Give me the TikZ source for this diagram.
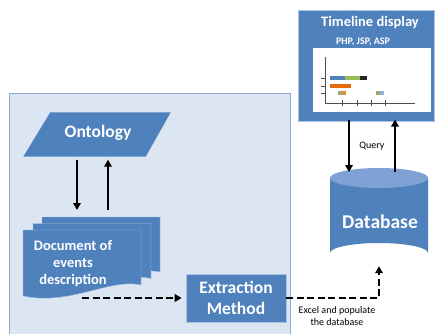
\documentclass[tikz,border=0pt]{standalone}
\usepackage{fontspec}
\setmainfont{Carlito}
\usetikzlibrary{arrows.meta,calc}
\definecolor{mblue}{HTML}{4F81BD}
\definecolor{panelfill}{HTML}{DCE6F2}
\definecolor{panelline}{HTML}{8FAAD0}
\definecolor{cyltop}{HTML}{7FA1D3}
\definecolor{pageline}{HTML}{A9C1E3}
\definecolor{bgreen}{HTML}{9BBB59}
\definecolor{borange}{HTML}{E46C0A}
\definecolor{bolive}{HTML}{A5A572}
\definecolor{blight}{HTML}{8DB3E2}
\begin{document}
\begin{tikzpicture}[x=1pt,y=-1pt,
  arr/.style={line width=2.2pt,-{Triangle[length=7pt,width=7.5pt]}},
  darr/.style={line width=2.6pt,dash pattern=on 7pt off 3.5pt,-{Triangle[length=7pt,width=7.5pt]}},
  wtext/.style={text=white,font=\bfseries,align=center,inner sep=0pt},
  bluebox/.style={fill=mblue,draw=pageline,line width=0.6pt,inner sep=0pt},
  pagefill/.style={fill=mblue,draw=pageline,line width=0.4pt},
  bar/.style={line width=4pt}]
\useasboundingbox (0,0) rectangle (436,334);
\fill[white] (0,0) rectangle (436,334);

% panel
\node[fill=panelfill,draw=panelline,line width=0.8pt,minimum width=281pt,minimum height=260pt,anchor=north west,inner sep=0pt] (panel) at (9,93) {};

% ontology
\node[minimum width=147pt,minimum height=44pt,inner sep=0pt] (onto) at (97,134.5) {};
\fill[mblue] (onto.south west) -- ([xshift=-25pt]onto.south east) -- (onto.north east) -- ([xshift=27pt]onto.north west) -- cycle;
\node[wtext,font=\bfseries\fontsize{17.5}{20}\selectfont] (ontot) at (98,133) {Ontology};

% document stack
\foreach \dx/\dy in {19/-13,10/-6.5,0/0}{
  \path[pagefill,shift={(\dx,\dy)}] (23,230) -- (141,230) -- (141,285)
     .. controls (110,278) and (70,306) .. (23,296) -- cycle;
}
\node[wtext,font=\bfseries\fontsize{14.5}{17}\selectfont] (doc) at (73,264) {Document of\\events\\description};

% ontology <-> document
\coordinate (ax1) at (77,0);
\coordinate (ax2) at (108,0);
\coordinate (docTop) at (0,210);
\draw[arr] ([yshift=-3pt]onto.south -| ax1) -- (docTop -| ax1);
\draw[arr] (docTop -| ax2) -- ([yshift=-3pt]onto.south -| ax2);

% extraction method
\node[bluebox,minimum width=100pt,minimum height=48pt] (ex) at (236,298) {};
\node[wtext,font=\bfseries\fontsize{17.5}{21.5}\selectfont] (ext) at (ex.center) {Extraction\\Method};

% dashed arrow doc -> extraction
\coordinate (ds) at (82,298);
\draw[darr,shorten >=4pt] (ds) -- (ex.west);

% database
\node[minimum width=98pt,minimum height=94pt,inner sep=0pt] (db) at (379,217) {};
\fill[mblue] (330,178) -- (330,253) arc[start angle=180,end angle=360,x radius=49pt,y radius=-10pt] -- (428,178) -- cycle;
\fill[cyltop] (379,178) ellipse[x radius=49pt,y radius=10pt];
\node[wtext,font=\bfseries\fontsize{19.5}{23}\selectfont] (dbt) at (380,222) {Database};

% dashed arrow extraction -> database
\draw[darr,shorten >=2pt] (ex.east) -- (ex.east -| db.south) -- (db.south);
\node[align=center,font=\fontsize{10}{12}\selectfont,inner sep=0pt] (lbl) at (337,316) {Excel and populate\\the database};

% timeline display
\node[bluebox,minimum width=136pt,minimum height=111pt,anchor=north west] (tl) at (298,10) {};
\node[wtext,font=\bfseries\fontsize{14.5}{16}\selectfont] (tlt) at (370,23) {Timeline display};
\node[wtext,font=\bfseries\fontsize{10}{12}\selectfont] (tech) at (363,42) {PHP, JSP, ASP};
\node[fill=white,minimum width=118pt,minimum height=64pt,anchor=north west,inner sep=0pt] (chart) at (313,48) {};

% chart content
\draw[black!70,line width=0.8pt] (325,57) -- (325,103) -- (415,103);
\foreach \yy in {78,86,93} \draw[black!70,line width=0.8pt] (321,\yy) -- (326,\yy);
\foreach \xx in {342,357,371,385} \draw[black!70,line width=0.8pt] (\xx,100) -- (\xx,106);
\draw[bar,mblue] (330,78) -- (345,78);
\draw[bar,bgreen] (345,78) -- (360,78);
\draw[bar,black!85] (360,78) -- (367,78);
\draw[bar,borange] (330,86) -- (351,86);
\draw[bar,bolive] (338,93) -- (343,93);
\draw[bar,borange!80] (343,93) -- (346,93);
\draw[bar,bolive] (376,93) -- (380,93);
\draw[bar,blight] (380,93) -- (384,93);

% query arrows
\coordinate (qx1) at (349,0);
\coordinate (qx2) at (395,0);
\coordinate (cylTop) at (0,172);
\draw[arr] ([yshift=2pt]tl.south -| qx1) -- (cylTop -| qx1);
\draw[arr] (cylTop -| qx2) -- ([yshift=2pt]tl.south -| qx2);
\node[font=\fontsize{10}{12}\selectfont,inner sep=0pt] (ql) at (372,146) {Query};
\end{tikzpicture}
\end{document}
